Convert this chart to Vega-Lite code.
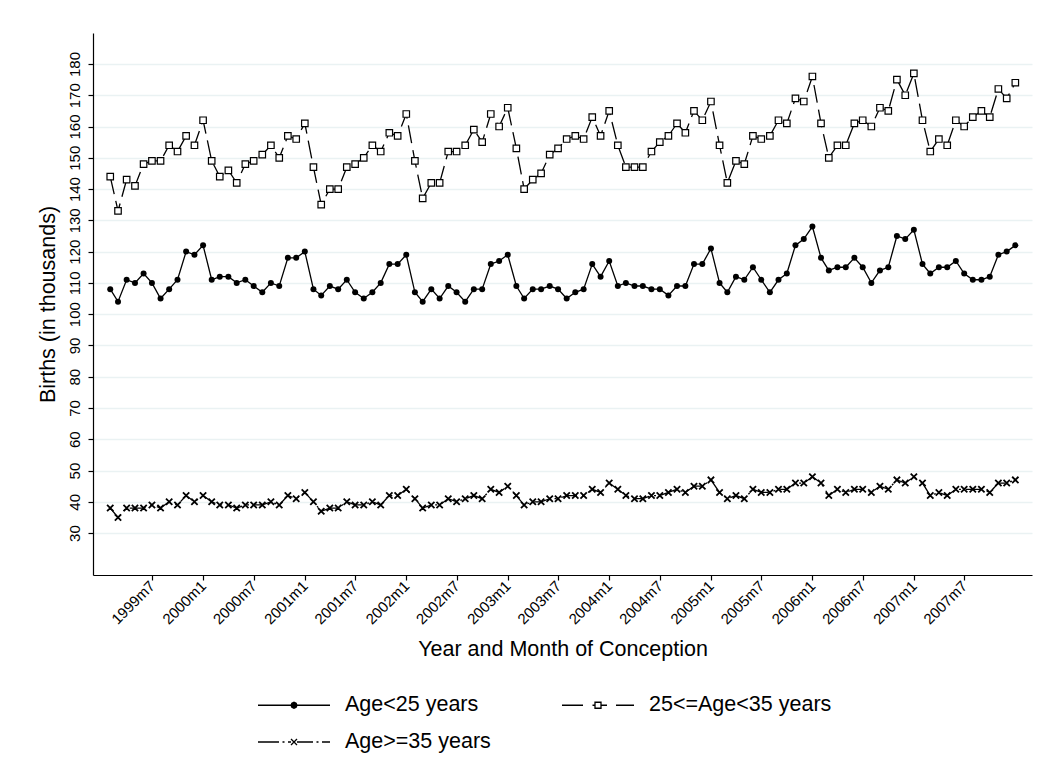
{
  "$schema": "https://vega.github.io/schema/vega-lite/v6.json",
  "width": 939,
  "height": 542,
  "autosize": {"type": "none"},
  "padding": {"left": 93, "top": 33, "right": 13, "bottom": 193},
  "background": "white",
  "config": {"view": {"stroke": null}, "font": "Liberation Sans"},
  "data": {"values": [
    {"d":"1999-02-01","s":"Age<25 years","v":108},{"d":"1999-03-01","s":"Age<25 years","v":104},{"d":"1999-04-01","s":"Age<25 years","v":111},{"d":"1999-05-01","s":"Age<25 years","v":110},{"d":"1999-06-01","s":"Age<25 years","v":113},{"d":"1999-07-01","s":"Age<25 years","v":110},{"d":"1999-08-01","s":"Age<25 years","v":105},{"d":"1999-09-01","s":"Age<25 years","v":108},{"d":"1999-10-01","s":"Age<25 years","v":111},{"d":"1999-11-01","s":"Age<25 years","v":120},{"d":"1999-12-01","s":"Age<25 years","v":119},{"d":"2000-01-01","s":"Age<25 years","v":122},
    {"d":"2000-02-01","s":"Age<25 years","v":111},{"d":"2000-03-01","s":"Age<25 years","v":112},{"d":"2000-04-01","s":"Age<25 years","v":112},{"d":"2000-05-01","s":"Age<25 years","v":110},{"d":"2000-06-01","s":"Age<25 years","v":111},{"d":"2000-07-01","s":"Age<25 years","v":109},{"d":"2000-08-01","s":"Age<25 years","v":107},{"d":"2000-09-01","s":"Age<25 years","v":110},{"d":"2000-10-01","s":"Age<25 years","v":109},{"d":"2000-11-01","s":"Age<25 years","v":118},{"d":"2000-12-01","s":"Age<25 years","v":118},{"d":"2001-01-01","s":"Age<25 years","v":120},
    {"d":"2001-02-01","s":"Age<25 years","v":108},{"d":"2001-03-01","s":"Age<25 years","v":106},{"d":"2001-04-01","s":"Age<25 years","v":109},{"d":"2001-05-01","s":"Age<25 years","v":108},{"d":"2001-06-01","s":"Age<25 years","v":111},{"d":"2001-07-01","s":"Age<25 years","v":107},{"d":"2001-08-01","s":"Age<25 years","v":105},{"d":"2001-09-01","s":"Age<25 years","v":107},{"d":"2001-10-01","s":"Age<25 years","v":110},{"d":"2001-11-01","s":"Age<25 years","v":116},{"d":"2001-12-01","s":"Age<25 years","v":116},{"d":"2002-01-01","s":"Age<25 years","v":119},
    {"d":"2002-02-01","s":"Age<25 years","v":107},{"d":"2002-03-01","s":"Age<25 years","v":104},{"d":"2002-04-01","s":"Age<25 years","v":108},{"d":"2002-05-01","s":"Age<25 years","v":105},{"d":"2002-06-01","s":"Age<25 years","v":109},{"d":"2002-07-01","s":"Age<25 years","v":107},{"d":"2002-08-01","s":"Age<25 years","v":104},{"d":"2002-09-01","s":"Age<25 years","v":108},{"d":"2002-10-01","s":"Age<25 years","v":108},{"d":"2002-11-01","s":"Age<25 years","v":116},{"d":"2002-12-01","s":"Age<25 years","v":117},{"d":"2003-01-01","s":"Age<25 years","v":119},
    {"d":"2003-02-01","s":"Age<25 years","v":109},{"d":"2003-03-01","s":"Age<25 years","v":105},{"d":"2003-04-01","s":"Age<25 years","v":108},{"d":"2003-05-01","s":"Age<25 years","v":108},{"d":"2003-06-01","s":"Age<25 years","v":109},{"d":"2003-07-01","s":"Age<25 years","v":108},{"d":"2003-08-01","s":"Age<25 years","v":105},{"d":"2003-09-01","s":"Age<25 years","v":107},{"d":"2003-10-01","s":"Age<25 years","v":108},{"d":"2003-11-01","s":"Age<25 years","v":116},{"d":"2003-12-01","s":"Age<25 years","v":112},{"d":"2004-01-01","s":"Age<25 years","v":117},
    {"d":"2004-02-01","s":"Age<25 years","v":109},{"d":"2004-03-01","s":"Age<25 years","v":110},{"d":"2004-04-01","s":"Age<25 years","v":109},{"d":"2004-05-01","s":"Age<25 years","v":109},{"d":"2004-06-01","s":"Age<25 years","v":108},{"d":"2004-07-01","s":"Age<25 years","v":108},{"d":"2004-08-01","s":"Age<25 years","v":106},{"d":"2004-09-01","s":"Age<25 years","v":109},{"d":"2004-10-01","s":"Age<25 years","v":109},{"d":"2004-11-01","s":"Age<25 years","v":116},{"d":"2004-12-01","s":"Age<25 years","v":116},{"d":"2005-01-01","s":"Age<25 years","v":121},
    {"d":"2005-02-01","s":"Age<25 years","v":110},{"d":"2005-03-01","s":"Age<25 years","v":107},{"d":"2005-04-01","s":"Age<25 years","v":112},{"d":"2005-05-01","s":"Age<25 years","v":111},{"d":"2005-06-01","s":"Age<25 years","v":115},{"d":"2005-07-01","s":"Age<25 years","v":111},{"d":"2005-08-01","s":"Age<25 years","v":107},{"d":"2005-09-01","s":"Age<25 years","v":111},{"d":"2005-10-01","s":"Age<25 years","v":113},{"d":"2005-11-01","s":"Age<25 years","v":122},{"d":"2005-12-01","s":"Age<25 years","v":124},{"d":"2006-01-01","s":"Age<25 years","v":128},
    {"d":"2006-02-01","s":"Age<25 years","v":118},{"d":"2006-03-01","s":"Age<25 years","v":114},{"d":"2006-04-01","s":"Age<25 years","v":115},{"d":"2006-05-01","s":"Age<25 years","v":115},{"d":"2006-06-01","s":"Age<25 years","v":118},{"d":"2006-07-01","s":"Age<25 years","v":115},{"d":"2006-08-01","s":"Age<25 years","v":110},{"d":"2006-09-01","s":"Age<25 years","v":114},{"d":"2006-10-01","s":"Age<25 years","v":115},{"d":"2006-11-01","s":"Age<25 years","v":125},{"d":"2006-12-01","s":"Age<25 years","v":124},{"d":"2007-01-01","s":"Age<25 years","v":127},
    {"d":"2007-02-01","s":"Age<25 years","v":116},{"d":"2007-03-01","s":"Age<25 years","v":113},{"d":"2007-04-01","s":"Age<25 years","v":115},{"d":"2007-05-01","s":"Age<25 years","v":115},{"d":"2007-06-01","s":"Age<25 years","v":117},{"d":"2007-07-01","s":"Age<25 years","v":113},{"d":"2007-08-01","s":"Age<25 years","v":111},{"d":"2007-09-01","s":"Age<25 years","v":111},{"d":"2007-10-01","s":"Age<25 years","v":112},{"d":"2007-11-01","s":"Age<25 years","v":119},{"d":"2007-12-01","s":"Age<25 years","v":120},{"d":"2008-01-01","s":"Age<25 years","v":122},

    {"d":"1999-02-01","s":"25<=Age<35 years","v":144},{"d":"1999-03-01","s":"25<=Age<35 years","v":133},{"d":"1999-04-01","s":"25<=Age<35 years","v":143},{"d":"1999-05-01","s":"25<=Age<35 years","v":141},{"d":"1999-06-01","s":"25<=Age<35 years","v":148},{"d":"1999-07-01","s":"25<=Age<35 years","v":149},{"d":"1999-08-01","s":"25<=Age<35 years","v":149},{"d":"1999-09-01","s":"25<=Age<35 years","v":154},{"d":"1999-10-01","s":"25<=Age<35 years","v":152},{"d":"1999-11-01","s":"25<=Age<35 years","v":157},{"d":"1999-12-01","s":"25<=Age<35 years","v":154},{"d":"2000-01-01","s":"25<=Age<35 years","v":162},
    {"d":"2000-02-01","s":"25<=Age<35 years","v":149},{"d":"2000-03-01","s":"25<=Age<35 years","v":144},{"d":"2000-04-01","s":"25<=Age<35 years","v":146},{"d":"2000-05-01","s":"25<=Age<35 years","v":142},{"d":"2000-06-01","s":"25<=Age<35 years","v":148},{"d":"2000-07-01","s":"25<=Age<35 years","v":149},{"d":"2000-08-01","s":"25<=Age<35 years","v":151},{"d":"2000-09-01","s":"25<=Age<35 years","v":154},{"d":"2000-10-01","s":"25<=Age<35 years","v":150},{"d":"2000-11-01","s":"25<=Age<35 years","v":157},{"d":"2000-12-01","s":"25<=Age<35 years","v":156},{"d":"2001-01-01","s":"25<=Age<35 years","v":161},
    {"d":"2001-02-01","s":"25<=Age<35 years","v":147},{"d":"2001-03-01","s":"25<=Age<35 years","v":135},{"d":"2001-04-01","s":"25<=Age<35 years","v":140},{"d":"2001-05-01","s":"25<=Age<35 years","v":140},{"d":"2001-06-01","s":"25<=Age<35 years","v":147},{"d":"2001-07-01","s":"25<=Age<35 years","v":148},{"d":"2001-08-01","s":"25<=Age<35 years","v":150},{"d":"2001-09-01","s":"25<=Age<35 years","v":154},{"d":"2001-10-01","s":"25<=Age<35 years","v":152},{"d":"2001-11-01","s":"25<=Age<35 years","v":158},{"d":"2001-12-01","s":"25<=Age<35 years","v":157},{"d":"2002-01-01","s":"25<=Age<35 years","v":164},
    {"d":"2002-02-01","s":"25<=Age<35 years","v":149},{"d":"2002-03-01","s":"25<=Age<35 years","v":137},{"d":"2002-04-01","s":"25<=Age<35 years","v":142},{"d":"2002-05-01","s":"25<=Age<35 years","v":142},{"d":"2002-06-01","s":"25<=Age<35 years","v":152},{"d":"2002-07-01","s":"25<=Age<35 years","v":152},{"d":"2002-08-01","s":"25<=Age<35 years","v":154},{"d":"2002-09-01","s":"25<=Age<35 years","v":159},{"d":"2002-10-01","s":"25<=Age<35 years","v":155},{"d":"2002-11-01","s":"25<=Age<35 years","v":164},{"d":"2002-12-01","s":"25<=Age<35 years","v":160},{"d":"2003-01-01","s":"25<=Age<35 years","v":166},
    {"d":"2003-02-01","s":"25<=Age<35 years","v":153},{"d":"2003-03-01","s":"25<=Age<35 years","v":140},{"d":"2003-04-01","s":"25<=Age<35 years","v":143},{"d":"2003-05-01","s":"25<=Age<35 years","v":145},{"d":"2003-06-01","s":"25<=Age<35 years","v":151},{"d":"2003-07-01","s":"25<=Age<35 years","v":153},{"d":"2003-08-01","s":"25<=Age<35 years","v":156},{"d":"2003-09-01","s":"25<=Age<35 years","v":157},{"d":"2003-10-01","s":"25<=Age<35 years","v":156},{"d":"2003-11-01","s":"25<=Age<35 years","v":163},{"d":"2003-12-01","s":"25<=Age<35 years","v":157},{"d":"2004-01-01","s":"25<=Age<35 years","v":165},
    {"d":"2004-02-01","s":"25<=Age<35 years","v":154},{"d":"2004-03-01","s":"25<=Age<35 years","v":147},{"d":"2004-04-01","s":"25<=Age<35 years","v":147},{"d":"2004-05-01","s":"25<=Age<35 years","v":147},{"d":"2004-06-01","s":"25<=Age<35 years","v":152},{"d":"2004-07-01","s":"25<=Age<35 years","v":155},{"d":"2004-08-01","s":"25<=Age<35 years","v":157},{"d":"2004-09-01","s":"25<=Age<35 years","v":161},{"d":"2004-10-01","s":"25<=Age<35 years","v":158},{"d":"2004-11-01","s":"25<=Age<35 years","v":165},{"d":"2004-12-01","s":"25<=Age<35 years","v":162},{"d":"2005-01-01","s":"25<=Age<35 years","v":168},
    {"d":"2005-02-01","s":"25<=Age<35 years","v":154},{"d":"2005-03-01","s":"25<=Age<35 years","v":142},{"d":"2005-04-01","s":"25<=Age<35 years","v":149},{"d":"2005-05-01","s":"25<=Age<35 years","v":148},{"d":"2005-06-01","s":"25<=Age<35 years","v":157},{"d":"2005-07-01","s":"25<=Age<35 years","v":156},{"d":"2005-08-01","s":"25<=Age<35 years","v":157},{"d":"2005-09-01","s":"25<=Age<35 years","v":162},{"d":"2005-10-01","s":"25<=Age<35 years","v":161},{"d":"2005-11-01","s":"25<=Age<35 years","v":169},{"d":"2005-12-01","s":"25<=Age<35 years","v":168},{"d":"2006-01-01","s":"25<=Age<35 years","v":176},
    {"d":"2006-02-01","s":"25<=Age<35 years","v":161},{"d":"2006-03-01","s":"25<=Age<35 years","v":150},{"d":"2006-04-01","s":"25<=Age<35 years","v":154},{"d":"2006-05-01","s":"25<=Age<35 years","v":154},{"d":"2006-06-01","s":"25<=Age<35 years","v":161},{"d":"2006-07-01","s":"25<=Age<35 years","v":162},{"d":"2006-08-01","s":"25<=Age<35 years","v":160},{"d":"2006-09-01","s":"25<=Age<35 years","v":166},{"d":"2006-10-01","s":"25<=Age<35 years","v":165},{"d":"2006-11-01","s":"25<=Age<35 years","v":175},{"d":"2006-12-01","s":"25<=Age<35 years","v":170},{"d":"2007-01-01","s":"25<=Age<35 years","v":177},
    {"d":"2007-02-01","s":"25<=Age<35 years","v":162},{"d":"2007-03-01","s":"25<=Age<35 years","v":152},{"d":"2007-04-01","s":"25<=Age<35 years","v":156},{"d":"2007-05-01","s":"25<=Age<35 years","v":154},{"d":"2007-06-01","s":"25<=Age<35 years","v":162},{"d":"2007-07-01","s":"25<=Age<35 years","v":160},{"d":"2007-08-01","s":"25<=Age<35 years","v":163},{"d":"2007-09-01","s":"25<=Age<35 years","v":165},{"d":"2007-10-01","s":"25<=Age<35 years","v":163},{"d":"2007-11-01","s":"25<=Age<35 years","v":172},{"d":"2007-12-01","s":"25<=Age<35 years","v":169},{"d":"2008-01-01","s":"25<=Age<35 years","v":174},

    {"d":"1999-02-01","s":"Age>=35 years","v":38},{"d":"1999-03-01","s":"Age>=35 years","v":35},{"d":"1999-04-01","s":"Age>=35 years","v":38},{"d":"1999-05-01","s":"Age>=35 years","v":38},{"d":"1999-06-01","s":"Age>=35 years","v":38},{"d":"1999-07-01","s":"Age>=35 years","v":39},{"d":"1999-08-01","s":"Age>=35 years","v":38},{"d":"1999-09-01","s":"Age>=35 years","v":40},{"d":"1999-10-01","s":"Age>=35 years","v":39},{"d":"1999-11-01","s":"Age>=35 years","v":42},{"d":"1999-12-01","s":"Age>=35 years","v":40},{"d":"2000-01-01","s":"Age>=35 years","v":42},
    {"d":"2000-02-01","s":"Age>=35 years","v":40},{"d":"2000-03-01","s":"Age>=35 years","v":39},{"d":"2000-04-01","s":"Age>=35 years","v":39},{"d":"2000-05-01","s":"Age>=35 years","v":38},{"d":"2000-06-01","s":"Age>=35 years","v":39},{"d":"2000-07-01","s":"Age>=35 years","v":39},{"d":"2000-08-01","s":"Age>=35 years","v":39},{"d":"2000-09-01","s":"Age>=35 years","v":40},{"d":"2000-10-01","s":"Age>=35 years","v":39},{"d":"2000-11-01","s":"Age>=35 years","v":42},{"d":"2000-12-01","s":"Age>=35 years","v":41},{"d":"2001-01-01","s":"Age>=35 years","v":43},
    {"d":"2001-02-01","s":"Age>=35 years","v":40},{"d":"2001-03-01","s":"Age>=35 years","v":37},{"d":"2001-04-01","s":"Age>=35 years","v":38},{"d":"2001-05-01","s":"Age>=35 years","v":38},{"d":"2001-06-01","s":"Age>=35 years","v":40},{"d":"2001-07-01","s":"Age>=35 years","v":39},{"d":"2001-08-01","s":"Age>=35 years","v":39},{"d":"2001-09-01","s":"Age>=35 years","v":40},{"d":"2001-10-01","s":"Age>=35 years","v":39},{"d":"2001-11-01","s":"Age>=35 years","v":42},{"d":"2001-12-01","s":"Age>=35 years","v":42},{"d":"2002-01-01","s":"Age>=35 years","v":44},
    {"d":"2002-02-01","s":"Age>=35 years","v":41},{"d":"2002-03-01","s":"Age>=35 years","v":38},{"d":"2002-04-01","s":"Age>=35 years","v":39},{"d":"2002-05-01","s":"Age>=35 years","v":39},{"d":"2002-06-01","s":"Age>=35 years","v":41},{"d":"2002-07-01","s":"Age>=35 years","v":40},{"d":"2002-08-01","s":"Age>=35 years","v":41},{"d":"2002-09-01","s":"Age>=35 years","v":42},{"d":"2002-10-01","s":"Age>=35 years","v":41},{"d":"2002-11-01","s":"Age>=35 years","v":44},{"d":"2002-12-01","s":"Age>=35 years","v":43},{"d":"2003-01-01","s":"Age>=35 years","v":45},
    {"d":"2003-02-01","s":"Age>=35 years","v":42},{"d":"2003-03-01","s":"Age>=35 years","v":39},{"d":"2003-04-01","s":"Age>=35 years","v":40},{"d":"2003-05-01","s":"Age>=35 years","v":40},{"d":"2003-06-01","s":"Age>=35 years","v":41},{"d":"2003-07-01","s":"Age>=35 years","v":41},{"d":"2003-08-01","s":"Age>=35 years","v":42},{"d":"2003-09-01","s":"Age>=35 years","v":42},{"d":"2003-10-01","s":"Age>=35 years","v":42},{"d":"2003-11-01","s":"Age>=35 years","v":44},{"d":"2003-12-01","s":"Age>=35 years","v":43},{"d":"2004-01-01","s":"Age>=35 years","v":46},
    {"d":"2004-02-01","s":"Age>=35 years","v":44},{"d":"2004-03-01","s":"Age>=35 years","v":42},{"d":"2004-04-01","s":"Age>=35 years","v":41},{"d":"2004-05-01","s":"Age>=35 years","v":41},{"d":"2004-06-01","s":"Age>=35 years","v":42},{"d":"2004-07-01","s":"Age>=35 years","v":42},{"d":"2004-08-01","s":"Age>=35 years","v":43},{"d":"2004-09-01","s":"Age>=35 years","v":44},{"d":"2004-10-01","s":"Age>=35 years","v":43},{"d":"2004-11-01","s":"Age>=35 years","v":45},{"d":"2004-12-01","s":"Age>=35 years","v":45},{"d":"2005-01-01","s":"Age>=35 years","v":47},
    {"d":"2005-02-01","s":"Age>=35 years","v":43},{"d":"2005-03-01","s":"Age>=35 years","v":41},{"d":"2005-04-01","s":"Age>=35 years","v":42},{"d":"2005-05-01","s":"Age>=35 years","v":41},{"d":"2005-06-01","s":"Age>=35 years","v":44},{"d":"2005-07-01","s":"Age>=35 years","v":43},{"d":"2005-08-01","s":"Age>=35 years","v":43},{"d":"2005-09-01","s":"Age>=35 years","v":44},{"d":"2005-10-01","s":"Age>=35 years","v":44},{"d":"2005-11-01","s":"Age>=35 years","v":46},{"d":"2005-12-01","s":"Age>=35 years","v":46},{"d":"2006-01-01","s":"Age>=35 years","v":48},
    {"d":"2006-02-01","s":"Age>=35 years","v":46},{"d":"2006-03-01","s":"Age>=35 years","v":42},{"d":"2006-04-01","s":"Age>=35 years","v":44},{"d":"2006-05-01","s":"Age>=35 years","v":43},{"d":"2006-06-01","s":"Age>=35 years","v":44},{"d":"2006-07-01","s":"Age>=35 years","v":44},{"d":"2006-08-01","s":"Age>=35 years","v":43},{"d":"2006-09-01","s":"Age>=35 years","v":45},{"d":"2006-10-01","s":"Age>=35 years","v":44},{"d":"2006-11-01","s":"Age>=35 years","v":47},{"d":"2006-12-01","s":"Age>=35 years","v":46},{"d":"2007-01-01","s":"Age>=35 years","v":48},
    {"d":"2007-02-01","s":"Age>=35 years","v":46},{"d":"2007-03-01","s":"Age>=35 years","v":42},{"d":"2007-04-01","s":"Age>=35 years","v":43},{"d":"2007-05-01","s":"Age>=35 years","v":42},{"d":"2007-06-01","s":"Age>=35 years","v":44},{"d":"2007-07-01","s":"Age>=35 years","v":44},{"d":"2007-08-01","s":"Age>=35 years","v":44},{"d":"2007-09-01","s":"Age>=35 years","v":44},{"d":"2007-10-01","s":"Age>=35 years","v":43},{"d":"2007-11-01","s":"Age>=35 years","v":46},{"d":"2007-12-01","s":"Age>=35 years","v":46},{"d":"2008-01-01","s":"Age>=35 years","v":47}
  ]},
  "encoding": {
    "x": {
      "field": "d", "type": "temporal",
      "scale": {"type": "utc", "domain": [{"year": 1998, "month": 12, "date": 1, "utc": true}, {"year": 2008, "month": 3, "date": 1, "utc": true}]},
      "axis": {
        "title": "Year and Month of Conception",
        "titleFont": "Liberation Sans", "titleFontSize": 21.5, "titleFontWeight": "normal", "titleColor": "black", "titlePadding": 12,
        "values": [
          {"year": 1999, "month": 7, "date": 1, "utc": true}, {"year": 2000, "month": 1, "date": 1, "utc": true},
          {"year": 2000, "month": 7, "date": 1, "utc": true}, {"year": 2001, "month": 1, "date": 1, "utc": true},
          {"year": 2001, "month": 7, "date": 1, "utc": true}, {"year": 2002, "month": 1, "date": 1, "utc": true},
          {"year": 2002, "month": 7, "date": 1, "utc": true}, {"year": 2003, "month": 1, "date": 1, "utc": true},
          {"year": 2003, "month": 7, "date": 1, "utc": true}, {"year": 2004, "month": 1, "date": 1, "utc": true},
          {"year": 2004, "month": 7, "date": 1, "utc": true}, {"year": 2005, "month": 1, "date": 1, "utc": true},
          {"year": 2005, "month": 7, "date": 1, "utc": true}, {"year": 2006, "month": 1, "date": 1, "utc": true},
          {"year": 2006, "month": 7, "date": 1, "utc": true}, {"year": 2007, "month": 1, "date": 1, "utc": true},
          {"year": 2007, "month": 7, "date": 1, "utc": true}
        ],
        "labelExpr": "utcFormat(datum.value, '%Y') + 'm' + (utcmonth(datum.value) + 1)",
        "labelAngle": -45, "labelAlign": "right", "labelBaseline": "middle",
        "labelFont": "Liberation Sans", "labelFontSize": 15, "labelColor": "black", "labelPadding": 3,
        "labelOverlap": false, "labelFlush": false,
        "tickSize": 5, "tickColor": "black", "tickWidth": 1.2,
        "domainColor": "black", "domainWidth": 1.2, "grid": false
      }
    },
    "y": {
      "field": "v", "type": "quantitative",
      "scale": {"domain": [16.6, 189.9], "nice": false, "zero": false},
      "axis": {
        "title": "Births (in thousands)",
        "titleFont": "Liberation Sans", "titleFontSize": 21.5, "titleFontWeight": "normal", "titleColor": "black", "titlePadding": 8,
        "values": [30, 40, 50, 60, 70, 80, 90, 100, 110, 120, 130, 140, 150, 160, 170, 180],
        "labelAngle": -90, "labelAlign": "center", "labelBaseline": "bottom",
        "labelFont": "Liberation Sans", "labelFontSize": 15, "labelColor": "black", "labelPadding": 6,
        "labelOverlap": false, "labelFlush": false,
        "tickSize": 5, "tickColor": "black", "tickWidth": 1.2,
        "domainColor": "black", "domainWidth": 1.2,
        "grid": true, "gridColor": "#EAF2F3", "gridWidth": 1.5
      }
    }
  },
  "layer": [
    {
      "transform": [{"filter": "datum.s === 'Age<25 years'"}],
      "mark": {"type": "line", "color": "black", "strokeWidth": 1.3},
      "encoding": {}
    },
    {
      "transform": [{"filter": "datum.s === '25<=Age<35 years'"}],
      "mark": {"type": "line", "color": "black", "strokeWidth": 1.3, "strokeDash": [18, 7]},
      "encoding": {}
    },
    {
      "transform": [{"filter": "datum.s === 'Age>=35 years'"}],
      "mark": {"type": "line", "color": "black", "strokeWidth": 1.3, "strokeDash": [16, 5, 2, 5]},
      "encoding": {}
    },
    {
      "transform": [{"filter": "datum.s === 'Age<25 years'"}],
      "mark": {"type": "point", "shape": "circle", "filled": true, "fill": "black", "size": 36, "opacity": 1}
    },
    {
      "transform": [{"filter": "datum.s === '25<=Age<35 years'"}],
      "mark": {"type": "point", "shape": "square", "filled": true, "fill": "white", "stroke": "black", "strokeWidth": 1.2, "size": 42, "opacity": 1}
    },
    {
      "transform": [{"filter": "datum.s === 'Age>=35 years'"}],
      "mark": {"type": "point", "shape": "M-1,-1L1,1M-1,1L1,-1", "filled": false, "stroke": "black", "strokeWidth": 1.8, "size": 40, "opacity": 1}
    },
    {
      "transform": [{"filter": "datum.v < 0"}],
      "mark": {"type": "point", "filled": true, "strokeWidth": 1.3, "opacity": 1},
      "encoding": {
        "shape": {
          "field": "s", "type": "nominal",
          "scale": {
            "domain": ["Age<25 years", "25<=Age<35 years", "Age>=35 years"],
            "range": [
              "M-1.1,0L6.1,0M2.8,0L2.712,0.212L2.5,0.3L2.288,0.212L2.2,0L2.288,-0.212L2.5,-0.3L2.712,-0.212Z",
              "M-1.1,0L1.0,0M1.95,0L2.2,0M2.8,0L3.4,0M4.3,0L6.1,0M2.2,-0.3L2.8,-0.3L2.8,0.3L2.2,0.3Z",
              "M-1.1,0L1.0,0M1.35,0L1.55,0M1.9,0L2.2,0M2.8,0L4.4,0M4.75,0L4.95,0M5.3,0L6.1,0M2.2,-0.3L2.8,0.3M2.2,0.3L2.8,-0.3"
            ]
          },
          "legend": {
            "title": null, "orient": "none", "legendX": 165, "legendY": 661,
            "columns": 2, "direction": "horizontal",
            "symbolSize": 400, "symbolStrokeWidth": 1.3, "symbolOpacity": 1,
            "labelOffset": 65, "labelFont": "Liberation Sans", "labelFontSize": 21.5, "labelColor": "black", "labelLimit": 400,
            "columnPadding": 68, "rowPadding": 15
          }
        },
        "fill": {
          "field": "s", "type": "nominal",
          "scale": {"domain": ["Age<25 years", "25<=Age<35 years", "Age>=35 years"], "range": ["black", "white", "black"]},
          "legend": {
            "title": null, "orient": "none", "legendX": 165, "legendY": 661,
            "columns": 2, "direction": "horizontal",
            "symbolSize": 400, "symbolStrokeWidth": 1.3, "symbolOpacity": 1,
            "labelOffset": 65, "labelFont": "Liberation Sans", "labelFontSize": 21.5, "labelColor": "black", "labelLimit": 400,
            "columnPadding": 68, "rowPadding": 15
          }
        },
        "stroke": {
          "field": "s", "type": "nominal",
          "scale": {"domain": ["Age<25 years", "25<=Age<35 years", "Age>=35 years"], "range": ["black", "black", "black"]},
          "legend": {
            "title": null, "orient": "none", "legendX": 165, "legendY": 661,
            "columns": 2, "direction": "horizontal",
            "symbolSize": 400, "symbolStrokeWidth": 1.3, "symbolOpacity": 1,
            "labelOffset": 65, "labelFont": "Liberation Sans", "labelFontSize": 21.5, "labelColor": "black", "labelLimit": 400,
            "columnPadding": 68, "rowPadding": 15
          }
        }
      }
    }
  ]
}
